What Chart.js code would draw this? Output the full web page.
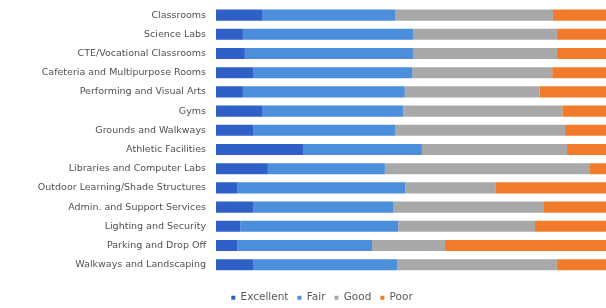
<!DOCTYPE html>
<html>
<head>
<meta charset="utf-8">
<script src="https://cdn.jsdelivr.net/npm/chart.js@4/dist/chart.umd.min.js"></script>
<style>
  html, body { margin: 0; padding: 0; background: #fff; }
  #wrap { width: 606px; height: 308px; }
</style>
</head>
<body>
<div id="wrap"><canvas id="chart"></canvas></div>
<script>
const categories = [
  'Classrooms',
  'Science Labs',
  'CTE/Vocational Classrooms',
  'Cafeteria and Multipurpose Rooms',
  'Performing and Visual Arts',
  'Gyms',
  'Grounds and Walkways',
  'Athletic Facilities',
  'Libraries and Computer Labs',
  'Outdoor Learning/Shade Structures',
  'Admin. and Support Services',
  'Lighting and Security',
  'Parking and Drop Off',
  'Walkways and Landscaping'
];

const excellent = [11.8, 6.9, 7.4, 9.5, 6.9, 11.8, 9.5, 22.3, 13.3, 5.4, 9.5, 6.2, 5.4, 9.5];
const fair      = [34.1, 43.6, 43.1, 40.8, 41.5, 36.2, 36.4, 30.5, 30.0, 43.1, 35.9, 40.5, 34.6, 36.9];
const good      = [40.5, 36.9, 36.9, 35.9, 34.6, 40.8, 43.6, 37.2, 52.6, 23.1, 38.5, 35.1, 18.7, 41.0];
const poor      = [13.6, 12.6, 12.6, 13.8, 17.0, 11.2, 10.5, 10.0, 4.1, 28.4, 16.1, 18.2, 41.3, 12.6];

function series(label, data, color) {
  return {
    label: label,
    data: data,
    backgroundColor: color,
    borderWidth: 0,
    categoryPercentage: 1,
    barPercentage: 0.58
  };
}

// legend in the original sits a bit right of the canvas centre
const legendShift = {
  id: 'legendShift',
  afterLayout(chart) {
    chart.legend.left += 38;
  }
};

const config = {
  type: 'bar',
  data: {
    labels: categories,
    datasets: [
      series('Excellent', excellent, '#2F60C8'),
      series('Fair', fair, '#4A8EDC'),
      series('Good', good, '#A8A8A8'),
      series('Poor', poor, '#F27B2B')
    ]
  },
  options: {
    indexAxis: 'y',
    responsive: true,
    maintainAspectRatio: false,
    animation: false,
    layout: {
      padding: { top: 5.5, right: 0, bottom: -5, left: 0 }
    },
    plugins: {
      legend: {
        position: 'bottom',
        // empty title only used as spacer above the items
        title: { display: true, text: '', font: { size: 1 }, padding: { top: 0, bottom: 8 } },
        labels: {
          boxWidth: 4,
          boxHeight: 4,
          padding: 9,
          color: '#595959',
          font: { size: 10.5 }
        }
      },
      tooltip: { enabled: false }
    },
    scales: {
      x: {
        stacked: true,
        min: 0,
        max: 100,
        display: false
      },
      y: {
        stacked: true,
        grid: { display: false },
        border: { display: false },
        ticks: {
          padding: 2,
          color: '#505050',
          font: { size: 9.5 }
        },
        afterFit: function (scale) {
          scale.width = 216;
          scale.paddingTop = 0;
          scale.paddingBottom = 0;
        }
      }
    }
  },
  plugins: [legendShift]
};

Chart.defaults.font.family = '"DejaVu Sans", sans-serif';
const chart = new Chart(document.getElementById('chart'), config);
</script>
</body>
</html>
